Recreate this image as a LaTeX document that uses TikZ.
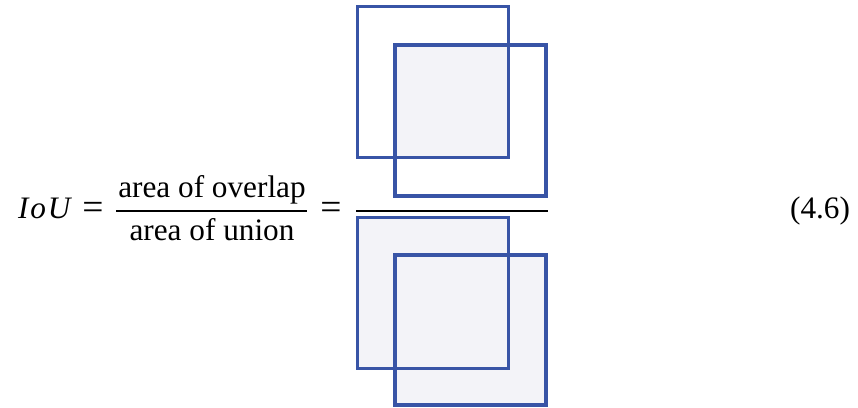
\documentclass[tikz,border=0pt]{standalone}
\usepackage{fontspec}
\setmainfont{Liberation Serif}
\definecolor{boxblue}{RGB}{56,84,166}
\definecolor{boxfill}{RGB}{243,243,248}
\tikzset{
  box/.style={draw=boxblue, line width=1.2pt},
  txt/.style={inner sep=0pt, outer sep=0pt, font=\fontsize{10}{12}\selectfont},
  eqsign/.style={inner sep=0pt, outer sep=0pt, font=\fontsize{12}{12}\selectfont},
  fracbar/.style={draw=black, line width=0.45pt},
}
\begin{document}
\begin{tikzpicture}[x=0.32pt, y=-0.32pt]
\useasboundingbox (0,0) rectangle (858,407);
% text of the equation
\node[txt, anchor=base west] (iou) at (18,218) {\textit{I\kern0.6pt o\kern0.6pt U}};
\node[eqsign, anchor=base] (eq1) at (93,219) {=};
\node[txt, anchor=base] (num) at (212,197) {area of overlap};
\node[txt, anchor=base] (den) at (212,240) {area of union};
\node[eqsign, anchor=base] (eq2) at (331,219) {=};
\node[txt, anchor=base east] (eqn) at (850,218) {(4.6)};
\coordinate (b1l) at (116,211);
\coordinate (b1r) at (307,211);
\coordinate (b2l) at (356,211);
\coordinate (b2r) at (548,211);
\draw[fracbar] (b1l) -- (b1r);
\draw[fracbar] (b2l) -- (b2r);
% top: overlap
\fill[boxfill] (395.2,44.8) rectangle (508.5,157.5);
\draw[box] (357.5,6.5) rectangle (508.5,157.5);
\draw[box] (395.2,44.8) rectangle (546.2,195.8);
% bottom: union
\fill[boxfill] (357.5,217.5) rectangle (508.5,368.5);
\fill[boxfill] (395.2,254.8) rectangle (546.2,405.2);
\draw[box] (357.5,217.5) rectangle (508.5,368.5);
\draw[box] (395.2,254.8) rectangle (546.2,405.2);
\end{tikzpicture}
\end{document}
